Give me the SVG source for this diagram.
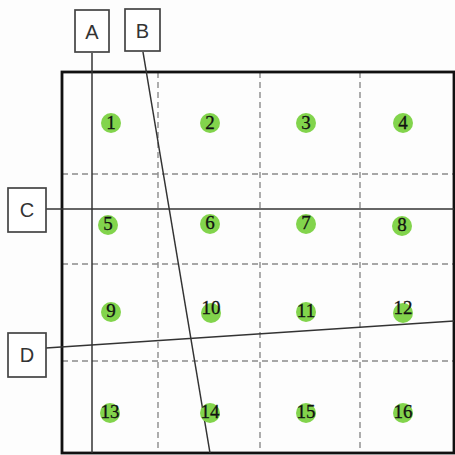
<svg xmlns="http://www.w3.org/2000/svg" width="455" height="455" viewBox="0 0 455 455">
<style>
.grid{stroke:#8a8a8a;stroke-width:1.4;stroke-dasharray:6 4;fill:none}
.frame{stroke:#111;stroke-width:2.8;fill:none}
.ln{stroke:#333;stroke-width:1.5;fill:none}
.box{fill:#fff;stroke:#444;stroke-width:1.7}
.lbl{font-family:"Liberation Sans",Arial,sans-serif;font-size:20px;fill:#333;text-anchor:middle}
.dot{fill:#82d44c}
.num{font-family:"Liberation Serif","Times New Roman",serif;font-size:19px;fill:#111;stroke:#111;stroke-width:0.3;text-anchor:middle}
</style>
<rect width="455" height="455" fill="#fdfdfd"/>
<g id="grid">
<line class="grid" x1="158" y1="72" x2="158" y2="453"/>
<line class="grid" x1="260" y1="72" x2="260" y2="453"/>
<line class="grid" x1="360" y1="72" x2="360" y2="453"/>
<line class="grid" x1="62" y1="174" x2="454" y2="174"/>
<line class="grid" x1="62" y1="264" x2="454" y2="264"/>
<line class="grid" x1="62" y1="361" x2="454" y2="361"/>
</g>
<rect id="frame" class="frame" x="62" y="72" width="392" height="381"/>
<g id="connectors">
<line class="ln" x1="92" y1="53" x2="92" y2="453"/>
<line class="ln" x1="143" y1="52" x2="210" y2="453"/>
<line class="ln" x1="46" y1="209" x2="454" y2="209"/>
<line class="ln" x1="46" y1="348" x2="454" y2="321"/>
</g>
<g id="A"><rect class="box" x="75" y="10" width="34" height="42"/><text class="lbl" x="92" y="39">A</text></g>
<g id="B"><rect class="box" x="125" y="9" width="35" height="42"/><text class="lbl" x="142.5" y="38">B</text></g>
<g id="C"><rect class="box" x="8" y="188" width="38" height="44"/><text class="lbl" x="27" y="217">C</text></g>
<g id="D"><rect class="box" x="8" y="333" width="38" height="44"/><text class="lbl" x="27" y="362">D</text></g>
<g id="p1"><circle class="dot" cx="111" cy="123" r="10"/><text class="num" x="111" y="129">1</text></g>
<g id="p2"><circle class="dot" cx="210" cy="123" r="10"/><text class="num" x="210" y="129">2</text></g>
<g id="p3"><circle class="dot" cx="306" cy="123" r="10"/><text class="num" x="306" y="129">3</text></g>
<g id="p4"><circle class="dot" cx="403" cy="123" r="10"/><text class="num" x="403" y="129">4</text></g>
<g id="p5"><circle class="dot" cx="108" cy="225" r="10"/><text class="num" x="108" y="230">5</text></g>
<g id="p6"><circle class="dot" cx="210" cy="224" r="10"/><text class="num" x="210" y="229">6</text></g>
<g id="p7"><circle class="dot" cx="306" cy="224" r="10"/><text class="num" x="306" y="229">7</text></g>
<g id="p8"><circle class="dot" cx="402" cy="226" r="10"/><text class="num" x="402" y="231">8</text></g>
<g id="p9"><circle class="dot" cx="111" cy="312" r="10"/><text class="num" x="111" y="317">9</text></g>
<g id="p10"><circle class="dot" cx="211" cy="313" r="10"/><text class="num" x="211" y="314">10</text></g>
<g id="p11"><circle class="dot" cx="306" cy="312" r="10"/><text class="num" x="306" y="317">11</text></g>
<g id="p12"><circle class="dot" cx="403" cy="313" r="10"/><text class="num" x="403" y="314">12</text></g>
<g id="p13"><circle class="dot" cx="110" cy="413" r="10"/><text class="num" x="110" y="418">13</text></g>
<g id="p14"><circle class="dot" cx="210" cy="413" r="10"/><text class="num" x="210" y="418">14</text></g>
<g id="p15"><circle class="dot" cx="306" cy="413" r="10"/><text class="num" x="306" y="418">15</text></g>
<g id="p16"><circle class="dot" cx="403" cy="413" r="10"/><text class="num" x="403" y="418">16</text></g>
</svg>
